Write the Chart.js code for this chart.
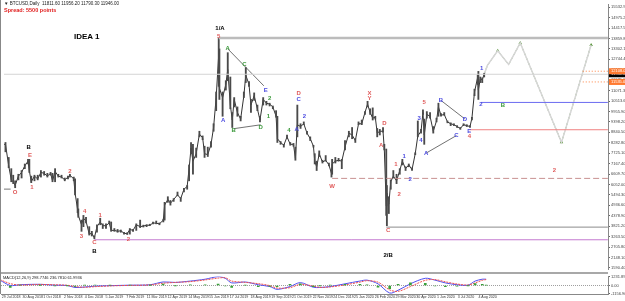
<!DOCTYPE html>
<html>
<head>
<meta charset="utf-8">
<script src="https://cdn.jsdelivr.net/npm/chart.js@4.4.0/dist/chart.umd.min.js"></script>
<style>
  body { margin: 0; background: #fff; width: 625px; height: 301px; overflow: hidden; position: relative; font-family: 'Liberation Sans', Arial, sans-serif; }
  canvas { position: absolute; left: 0; }
  #main { top: 0; }
  #macd { top: 273px; }
  #sep { position: absolute; left: 0; top: 272px; width: 608px; height: 2px; background: #a8a8a8; }
  #lborder { position: absolute; left: 0; top: 0; width: 1px; height: 294px; background: #888; }
  .txt { position: absolute; white-space: nowrap; }
  #hdr { left: 4px; top: 1px; font-size: 4.5px; color: #222; }
  #spread { left: 4px; top: 7px; font-size: 5.5px; color: #e02020; font-weight: bold; }
  #idea { left: 74px; top: 32px; font-size: 8px; font-weight: bold; color: #000; }
  #macdTitle { left: 3px; top: 275px; font-size: 4px; color: #222; }
</style>
</head>
<body>
<canvas id="main" width="625" height="273"></canvas>
<canvas id="macd" width="625" height="28"></canvas>
<div id="sep"></div>
<div id="lborder"></div>
<div class="txt" id="hdr">&#9660; BTCUSD,Daily&nbsp; 11811.60 11956.20 11790.30 11946.00</div>
<div class="txt" id="spread">Spread: 5500 points</div>
<div class="txt" id="idea">IDEA 1</div>
<div class="txt" id="macdTitle">MACD(12,26,9) 298.7746 236.7810 61.9936</div>
<script>
// days counted from 20 Jul 2018
const priceDays = [0, 5, 10, 15, 19, 22, 25, 30, 35, 40, 45, 47, 50, 55, 60, 65, 70, 75, 80, 83, 87, 92, 97, 102, 107, 110, 116, 118, 122, 123, 128, 131, 135, 140, 144, 148, 152, 157, 161, 166, 171, 174, 179, 184, 189, 194, 199, 203, 208, 213, 219, 224, 229, 234, 239, 244, 249, 255, 257, 262, 266, 271, 277, 282, 287, 292, 295, 298, 301, 306, 311, 316, 319, 324, 329, 333, 337, 341, 342, 347, 352, 355, 359, 362, 365, 370, 375, 380, 383, 388, 391, 396, 401, 405, 410, 415, 420, 425, 430, 432, 437, 442, 447, 452, 457, 460, 463, 468, 473, 478, 483, 488, 490, 493, 497, 502, 507, 512, 516, 517, 522, 527, 532, 537, 543, 548, 553, 558, 563, 568, 572, 576, 580, 584, 587, 591, 596, 598, 601, 602, 605, 608, 612, 617, 622, 626, 631, 636, 641, 646, 650, 655, 658, 660, 664, 669, 674, 679, 682, 686, 691, 696, 701, 706, 711, 716, 721, 726, 731, 734, 738, 743, 744, 747, 750, 753];
const priceClose = [7400, 8200, 8200, 7050, 6300, 6200, 6000, 6500, 6700, 7050, 7300, 6800, 6200, 6500, 6350, 6700, 6650, 6500, 6650, 6250, 6750, 6500, 6450, 6300, 6450, 6550, 6350, 5600, 4700, 4400, 3900, 4250, 4100, 3400, 3450, 3200, 3800, 4050, 3850, 3850, 4000, 3600, 3600, 3550, 3580, 3450, 3420, 3650, 3600, 3900, 3800, 3830, 3880, 3870, 4000, 3980, 3950, 4150, 4950, 5250, 5050, 5250, 5500, 5300, 5800, 5950, 6900, 8000, 7300, 7700, 8750, 8550, 7700, 7650, 8200, 9100, 10700, 13000, 11200, 10700, 11400, 12200, 10300, 9500, 10600, 9900, 9550, 10800, 11900, 11400, 10300, 10800, 10100, 9500, 10600, 10400, 10350, 10200, 9700, 8500, 8300, 8150, 8600, 8200, 8200, 7450, 9250, 9150, 9300, 8800, 8500, 8100, 7300, 7000, 7700, 7250, 7350, 7100, 6650, 7150, 7300, 7350, 7300, 8050, 8800, 8700, 8400, 9300, 9300, 9900, 10350, 9900, 9600, 9650, 8800, 8900, 8900, 7950, 4900, 5600, 5000, 6200, 6500, 6250, 6800, 7300, 6900, 7100, 6850, 7700, 8650, 8900, 9900, 8700, 9800, 9700, 8900, 9450, 10200, 9750, 9800, 9400, 9300, 9250, 9150, 9050, 9250, 9200, 9150, 9600, 11000, 11800, 11100, 11700, 11650, 11950];
const priceLow = [7250, 7900, 7800, 6950, 6200, 6100, 5880, 6300, 6400, 6900, 7150, 6700, 6150, 6250, 6300, 6450, 6550, 6450, 6550, 6200, 6200, 6450, 6400, 6250, 6350, 6450, 6250, 5500, 4550, 4300, 3550, 3800, 4000, 3350, 3300, 3150, 3500, 3900, 3700, 3700, 3950, 3550, 3550, 3500, 3500, 3400, 3380, 3400, 3550, 3600, 3750, 3780, 3800, 3850, 3950, 3950, 3900, 4050, 4150, 5100, 4950, 5150, 5450, 5150, 5650, 5800, 6250, 7700, 6600, 7500, 8600, 8450, 7500, 7550, 8050, 8900, 10000, 11300, 10600, 9700, 11100, 11600, 10100, 9100, 10200, 9700, 9450, 10700, 11500, 11300, 9900, 10550, 10000, 9400, 10300, 10300, 10250, 10100, 9650, 8300, 8200, 8050, 8500, 8150, 8100, 7350, 8600, 9050, 9250, 8750, 8400, 8050, 7150, 6800, 7550, 7200, 7300, 7050, 6450, 6600, 7200, 7300, 6900, 7900, 8600, 8500, 8300, 9250, 9250, 9800, 10200, 9800, 9500, 9550, 8600, 8700, 8850, 7900, 4400, 3850, 4500, 5800, 6400, 6100, 6600, 7100, 6800, 7000, 6800, 7650, 8600, 8800, 9800, 8200, 9600, 9600, 8800, 9400, 9700, 9700, 9750, 9350, 9200, 9200, 9100, 9000, 9200, 9150, 9100, 9500, 10800, 11400, 10600, 11500, 11500, 11800];
const priceHigh = [7550, 8500, 8300, 7500, 6900, 6550, 6250, 6600, 6800, 7150, 7400, 7400, 6500, 6550, 6550, 6800, 6750, 6650, 6700, 6650, 6900, 6600, 6550, 6400, 6500, 6600, 6450, 6350, 5300, 4750, 4150, 4400, 4300, 3800, 3550, 3300, 3900, 4250, 3950, 3950, 4100, 4050, 3700, 3650, 3620, 3500, 3480, 3700, 3650, 3950, 4150, 3880, 3900, 3930, 4050, 4100, 4000, 4200, 5100, 5400, 5200, 5300, 5650, 5350, 5850, 6000, 7100, 8300, 8200, 8000, 8900, 8650, 8100, 8050, 8350, 9300, 11000, 13880, 13300, 11000, 11600, 13100, 11800, 9900, 10700, 10200, 9700, 11000, 12300, 11550, 10600, 10950, 10300, 9700, 10700, 10500, 10400, 10250, 10000, 9700, 8350, 8200, 8700, 8300, 8250, 8050, 10300, 9300, 9400, 8900, 8600, 8150, 7700, 7300, 7850, 7350, 7600, 7200, 6800, 7400, 7500, 7450, 7400, 8400, 8900, 9100, 8500, 9400, 9500, 9950, 10500, 10100, 10150, 9700, 9050, 9000, 9100, 8200, 7950, 6000, 5400, 6300, 6800, 6600, 6900, 7400, 7000, 7150, 6950, 7750, 9450, 9000, 10050, 9550, 9950, 9900, 9150, 9600, 10400, 9850, 9900, 9450, 9350, 9300, 9200, 9100, 9300, 9250, 9200, 9650, 11150, 11900, 12100, 11800, 11750, 12000];

// projected path after the last bar
const projDays = [753, 758, 774, 791, 809, 873, 919];
const projPrice = [11950, 12420, 13200, 12470, 13620, 8306, 13515];

// horizontal levels: start day, end day and price
const levelFrom = [341, 7.7, 748, 730, 517, 601, 148, 906, 906, 7.7];
const levelTo = [945, 945, 945, 945, 945, 945, 945, 945, 945, 18];
const levelPrice = [13880, 11946, 10440, 8980, 6380, 3775, 3098, 12108, 11535, 5806];
const levelKind = ['top', 'bid', 'blue', 'red', 'brown', 'grey', 'purple', 'orange', 'orange', 'stub'];

// triangle boundaries: [startDay, endDay] / [startPrice, endPrice]
const trendDays = [[355, 411], [364, 406], [686, 723], [663, 710]];
const trendPrice = [[13306, 11327], [9035, 9244], [10545, 9557], [7733, 8670]];

// wave labels
const waveText = ['1/A', '5', 'B', 'E', 'O', '1', '2', '4', '3', '1', '2', 'C', 'B',
  'A', 'B', 'C', 'D', 'E', 'A', '2', '1', '4', 'D', 'C', 'A', '2',
  'X', 'Y', 'D', 'A', 'C', '2/B', '1', '2', '1', '2', '3', '4', '5', 'A', 'B', 'C', 'D', 'E', '4', '2', '1', 'B', '2', 'W'];
const waveDay = [343, 341, 46, 48, 25, 51, 110, 133, 128, 157, 201, 148, 148,
  355, 364, 381, 406, 414, 348, 420, 418, 450, 465, 465, 462, 474,
  575, 575, 598, 593, 604, 604, 616, 621, 629, 638, 652, 655, 660, 663, 686, 710, 723, 730, 730, 748, 749, 782, 862, 517];
const wavePrice = [14400, 13983, 8046, 7629, 5650, 5910, 6744, 4608, 3306, 4400, 3098, 2942, 2473,
  13306, 8931, 12472, 9087, 11110, 9504, 10650, 9712, 8931, 10910, 10598, 8983, 9712,
  10910, 10650, 9348, 8150, 3619, 2265, 7108, 5546, 7577, 6327, 9608, 8410, 10441, 7733, 10545, 8670, 9556, 8879, 8618, 10337, 12264, 10285, 6796, 5962];
const waveKind = ['key', 'red', 'key', 'red', 'red', 'red', 'red', 'red', 'red', 'red', 'red', 'red', 'key',
  'green', 'green', 'green', 'green', 'blue', 'blue', 'green', 'green', 'green', 'red', 'blue', 'blue', 'blue',
  'red', 'red', 'red', 'red', 'red', 'key', 'red', 'red', 'blue', 'blue', 'blue', 'blue', 'red', 'blue', 'blue', 'blue', 'blue', 'blue', 'red', 'blue', 'blue', 'green', 'red', 'red'];

const priceTicks = [1590.40, 2148.10, 2705.80, 3263.50, 3821.20, 4378.90, 4936.60, 5494.30, 6052.00, 6609.70, 7167.40, 7725.10, 8282.80, 8840.50, 9398.20, 9955.90, 10513.60, 11071.30, 11629.00, 12186.70, 12744.40, 13302.10, 13859.80, 14417.50, 14975.20, 15532.90];
const lastPrice = 11946.00;

// MACD panel
const macdDays = [6, 22, 37, 68, 91, 110, 122, 137, 153, 176, 207, 238, 258, 277, 300, 323, 343, 354, 364, 385, 405, 423, 434, 454, 470, 490, 500, 516, 539, 562, 573, 590, 608, 621, 640, 663, 678, 694, 712, 729, 740, 751, 757];
const macdMain = [725, 0, 100, 160, 40, 0, -275, -210, -90, -25, 40, 100, 475, 410, 600, 850, 1200, 975, 350, 475, 100, -150, -525, -150, 390, -240, -275, -150, 225, 600, 725, 225, -1025, -650, 225, 975, 725, 350, 100, 40, 600, 850, 850];
const macdSignal = [800, 250, 60, 140, 90, 30, -150, -240, -160, -60, 10, 80, 300, 420, 520, 750, 1000, 1050, 600, 420, 250, -20, -350, -300, 150, -80, -250, -200, 80, 450, 650, 450, -600, -800, -150, 700, 800, 500, 200, 60, 350, 700, 800];
const macdHist = [-75, -250, 40, 20, -50, -30, -125, 30, 70, 35, 30, 20, 175, -10, 80, 100, 200, -75, -250, 55, -150, -130, -175, 150, 240, -160, -25, 50, 145, 150, 75, -225, -425, 150, 375, 275, -75, -150, -100, -20, 250, 150, 50];
const macdTicks = [-1156.9040, 0, 1231.8950];

const dateTicks = [9, 41, 73, 105, 137, 169, 201, 233, 265, 297, 329, 361, 393, 425, 457, 489, 521, 553, 585, 617, 649, 681, 713, 745];
const dateLabels = ['29 Jul 2018', '30 Aug 2018', '1 Oct 2018', '2 Nov 2018', '4 Dec 2018', '5 Jan 2019', '7 Feb 2019', '11 Mar 2019', '12 Apr 2019', '14 May 2019', '15 Jun 2019', '17 Jul 2019', '18 Aug 2019', '19 Sep 2019', '21 Oct 2019', '22 Nov 2019', '24 Dec 2019', '25 Jan 2020', '26 Feb 2020', '29 Mar 2020', '30 Apr 2020', '1 Jun 2020', '3 Jul 2020', '4 Aug 2020'];

const X_MIN = 7.7, X_MAX = 945.2;

const levelStyle = {
  top: { color: '#bcbcbc', width: 2.5, dash: [] },
  bid: { color: '#d4d4d4', width: 1, dash: [] },
  blue: { color: '#6a6af0', width: 1, dash: [] },
  red: { color: '#f08080', width: 1, dash: [] },
  brown: { color: '#c89090', width: 1, dash: [6, 3] },
  grey: { color: '#8c8c8c', width: 1, dash: [] },
  purple: { color: '#c47ad0', width: 1, dash: [] },
  orange: { color: '#ff8040', width: 1, dash: [1, 2] },
  stub: { color: '#777', width: 1, dash: [] }
}
const waveColor = { key: '#000', red: '#e05a5a', green: '#3c9a3c', blue: '#4a4ae0' }
const tickFont = { size: 4, family: 'Liberation Sans' }

const datasets = []

levelPrice.forEach((p, i) => {
  const st = levelStyle[levelKind[i]]
  datasets.push({
    type: 'line',
    data: [{ x: levelFrom[i], y: p }, { x: levelTo[i], y: p }],
    borderColor: st.color,
    borderWidth: st.width,
    borderDash: st.dash,
    pointRadius: 0
  })
})

trendDays.forEach((d, i) => {
  datasets.push({
    type: 'line',
    data: [{ x: d[0], y: trendPrice[i][0] }, { x: d[1], y: trendPrice[i][1] }],
    borderColor: '#333',
    borderWidth: 0.7,
    pointRadius: 0
  })
})

// high-low bars plus close line
datasets.push({
  type: 'bar',
  data: priceDays.map((d, i) => ({ x: d, y: [priceLow[i], priceHigh[i]] })),
  backgroundColor: '#4a4a4a',
  barThickness: 1.2,
  grouped: false
})
datasets.push({
  type: 'line',
  data: priceDays.map((d, i) => ({ x: d, y: priceClose[i] })),
  borderColor: '#333',
  borderWidth: 1,
  pointRadius: 0
})

const projData = projDays.map((d, i) => ({ x: d, y: projPrice[i] }))
datasets.push({
  type: 'line',
  data: projData,
  borderColor: '#d6d6d6',
  borderWidth: 1.5,
  pointRadius: 0
})
datasets.push({
  type: 'line',
  data: projData,
  borderColor: '#4f8f2f',
  borderWidth: 0.8,
  borderDash: [3, 2],
  pointStyle: 'triangle',
  pointRadius: [0, 0, 2, 0, 2, 2, 2],
  pointBackgroundColor: '#4f8f2f',
  pointBorderWidth: 0
})

const wavePlugin = {
  id: 'waves',
  afterDatasetsDraw(chart) {
    const { ctx, scales } = chart
    ctx.save()
    ctx.font = 'bold 6px "Liberation Sans", Arial'
    ctx.textAlign = 'center'
    ctx.textBaseline = 'middle'
    waveText.forEach((t, i) => {
      ctx.fillStyle = waveColor[waveKind[i]]
      ctx.fillText(t, scales.x.getPixelForValue(waveDay[i]), scales.y.getPixelForValue(wavePrice[i]))
    })
    ctx.restore()
  },
  afterDraw(chart) {
    const { ctx, scales, chartArea } = chart
    ctx.save()
    ctx.font = '4px "Liberation Sans", Arial'
    ctx.textBaseline = 'middle'
    const boxes = [[lastPrice, '#000'], [levelPrice[7], '#ff7a30'], [levelPrice[8], '#ff7a30']]
    boxes.forEach(b => {
      const y = scales.y.getPixelForValue(b[0])
      ctx.fillStyle = b[1]
      ctx.fillRect(chartArea.right + 1, y - 3, 17, 6)
      ctx.fillStyle = '#fff'
      ctx.fillText(b[0].toFixed(2), chartArea.right + 3, y)
    })
    ctx.restore()
  }
}

new Chart(document.getElementById('main'), {
  data: { datasets },
  plugins: [wavePlugin],
  options: {
    responsive: false,
    devicePixelRatio: 1,
    animation: false,
    layout: { padding: { left: 1, top: 0, right: 0, bottom: 1 } },
    plugins: { legend: { display: false }, tooltip: { enabled: false } },
    elements: { line: { tension: 0 } },
    scales: {
      x: { type: 'linear', min: X_MIN, max: X_MAX, display: false, offset: false },
      y: {
        type: 'linear',
        position: 'right',
        min: 1536,
        max: 15702,
        afterBuildTicks: s => { s.ticks = priceTicks.map(v => ({ value: v })) },
        afterFit: s => { s.width = 17 },
        grid: { display: true, drawOnChartArea: false, tickLength: 2, color: '#666' },
        border: { display: true, color: '#888', width: 1 },
        ticks: {
          autoSkip: false,
          padding: 1,
          color: '#444',
          font: tickFont,
          callback: v => v.toFixed(2)
        }
      }
    }
  }
})

new Chart(document.getElementById('macd'), {
  data: {
    datasets: [
      {
        type: 'bar',
        data: macdDays.map((d, i) => ({ x: d, y: macdHist[i] })),
        backgroundColor: '#3aa03a',
        barThickness: 2
      },
      {
        type: 'line',
        data: macdDays.map((d, i) => ({ x: d, y: macdSignal[i] })),
        borderColor: '#f05050',
        borderWidth: 1,
        borderDash: [2, 1],
        pointRadius: 0,
        tension: 0.3
      },
      {
        type: 'line',
        data: macdDays.map((d, i) => ({ x: d, y: macdMain[i] })),
        borderColor: '#5050f0',
        borderWidth: 1,
        pointRadius: 0,
        tension: 0.3
      },
      {
        type: 'line',
        data: [{ x: X_MIN, y: 0 }, { x: X_MAX, y: 0 }],
        borderColor: '#777',
        borderWidth: 0.7,
        borderDash: [1, 1],
        pointRadius: 0
      }
    ]
  },
  options: {
    responsive: false,
    devicePixelRatio: 1,
    animation: false,
    layout: { padding: { left: 1, top: 2, right: 0, bottom: 0 } },
    plugins: { legend: { display: false }, tooltip: { enabled: false } },
    scales: {
      x: {
        type: 'linear',
        min: X_MIN,
        max: X_MAX,
        offset: false,
        afterBuildTicks: s => { s.ticks = dateTicks.map(v => ({ value: v })) },
        afterFit: s => { s.height = 7 },
        grid: { display: true, drawOnChartArea: false, tickLength: 1, color: '#666' },
        border: { display: true, color: '#888', width: 1 },
        ticks: {
          autoSkip: false,
          maxRotation: 0,
          align: 'start',
          padding: 0,
          color: '#333',
          font: { size: 3.6, family: 'Liberation Sans' },
          callback: (v, i) => dateLabels[i]
        }
      },
      y: {
        type: 'linear',
        position: 'right',
        min: -1157,
        max: 1232,
        afterBuildTicks: s => { s.ticks = macdTicks.map(v => ({ value: v })) },
        afterFit: s => { s.width = 17 },
        grid: { display: true, drawOnChartArea: false, tickLength: 2, color: '#666' },
        border: { display: true, color: '#888', width: 1 },
        ticks: {
          autoSkip: false,
          padding: 1,
          color: '#444',
          font: tickFont,
          callback: v => v === 0 ? '0.00' : v.toFixed(4)
        }
      }
    }
  }
})
</script>
</body>
</html>
